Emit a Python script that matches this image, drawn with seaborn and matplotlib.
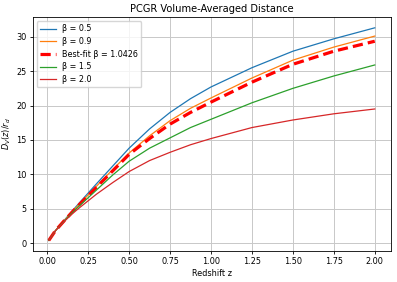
import matplotlib
matplotlib.use("Agg")
import matplotlib.pyplot as plt
import seaborn as sns
import pandas as pd

# redshift grid and D_V(z)/r_d
z = [0.01, 0.05, 0.1, 0.15, 0.2, 0.3, 0.4, 0.5, 0.625, 0.75, 0.875, 1.0, 1.25, 1.5, 1.75, 2.0]
dv_beta_05 = [0.4, 1.8, 3.2, 4.6, 5.95, 8.6, 11.2, 13.8, 16.6, 19.0, 21.0, 22.7, 25.5, 27.9, 29.7, 31.3]
dv_beta_09 = [0.4, 1.8, 3.15, 4.5, 5.75, 8.25, 10.7, 13.1, 15.6, 17.8, 19.6, 21.1, 24.0, 26.6, 28.5, 30.1]
dv_best = [0.4, 1.8, 3.15, 4.45, 5.7, 8.1, 10.5, 12.9, 15.2, 17.3, 19.0, 20.5, 23.4, 26.0, 27.9, 29.35]
dv_beta_15 = [0.4, 1.8, 3.1, 4.35, 5.5, 7.7, 9.9, 11.9, 13.8, 15.3, 16.8, 18.0, 20.4, 22.5, 24.3, 25.9]
dv_beta_20 = [0.4, 1.8, 3.05, 4.2, 5.2, 7.1, 8.8, 10.4, 12.0, 13.2, 14.3, 15.2, 16.8, 17.9, 18.8, 19.5]

plt.rcParams['font.size'] = 5.9
plt.rcParams['xtick.major.size'] = 2.5
plt.rcParams['ytick.major.size'] = 2.5

fig = plt.figure(figsize=(3.97, 2.82), dpi=100)
ax = fig.add_axes([0.082, 0.110, 0.903, 0.829])

series = [
    ("β = 0.5", dv_beta_05, "tab:blue", "-", 0.9),
    ("β = 0.9", dv_beta_09, "tab:orange", "-", 0.9),
    ("Best-fit β = 1.0426", dv_best, "red", "--", 2.3),
    ("β = 1.5", dv_beta_15, "tab:green", "-", 0.9),
    ("β = 2.0", dv_beta_20, "tab:red", "-", 0.9),
]
for label, vals, color, ls, lw in series:
    df = pd.DataFrame({"z": z, "dv": vals})
    sns.lineplot(data=df, x="z", y="dv", ax=ax, color=color, linestyle=ls,
                 linewidth=lw, label=label)
ax.lines[2].set_dashes((3.2, 1.6))

ax.set_title("PCGR Volume-Averaged Distance", fontsize=7.1, pad=4)
ax.set_xlabel("Redshift z", labelpad=2)
ax.set_ylabel("$D_V(z)/r_d$", labelpad=2)
ax.tick_params(pad=2, width=0.6)
for s in ax.spines.values():
    s.set_linewidth(0.6)
ax.grid(True, color="#c8c8c8", linewidth=0.7)
ax.legend(loc="upper left", fontsize=5.8, labelspacing=0.45)

fig.savefig("out.png", dpi=100)
